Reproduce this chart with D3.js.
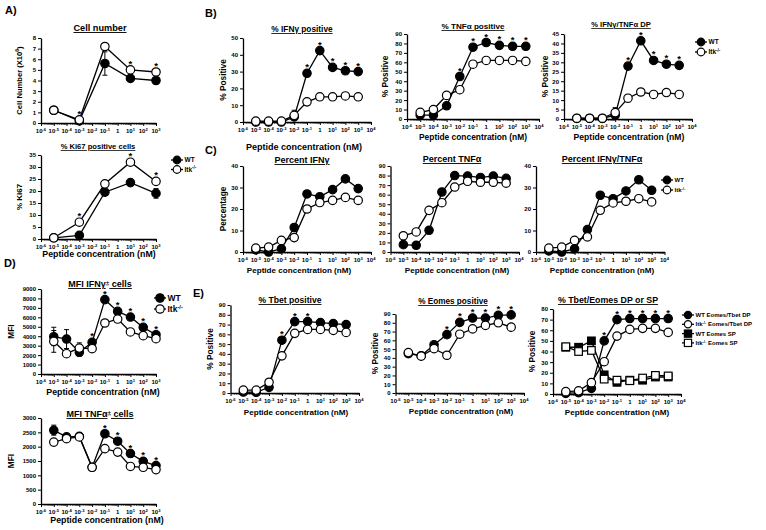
<!DOCTYPE html>
<html><head><meta charset="utf-8">
<script src="https://cdn.jsdelivr.net/npm/d3@7"></script>
<style>body{margin:0;background:#fff}svg{display:block}</style>
</head><body><svg id="c" width="766" height="530"></svg>
<script>
// ---------- DATA ----------
const xA = [-5, -3, -1, 1, 3];                 // log10 peptide conc (nM), panel A
const x9 = [-5, -4, -3, -2, -1, 0, 1, 2, 3];   // log10 peptide conc (nM), panels B-E

const cellWT = [1.2, 0.2, 5.6, 4.2, 4.0];
const cellKO = [1.2, 0.3, 7.2, 5.0, 4.8];
const cellStars = [-3, 1, 3];

const ki67WT = [0.5, 1.5, 19.5, 23.5, 19];
const ki67KO = [0.5, 7, 23, 32, 24];
const ki67Stars = [-3, 1, 3];

const ifngPosWT = [0, 0, 0, 3, 29, 42.5, 32.5, 30.5, 30];
const ifngPosKO = [0.5, 0.5, 0.5, 4, 12, 15, 15, 15.5, 15];
const ifngPosStars = [-1, 0, 1, 2, 3];

const tnfPosWT = [4, 4, 14, 45, 76, 81, 78, 77, 77];
const tnfPosKO = [7, 10, 25, 31, 58, 62, 62, 62, 61];
const tnfPosStars = [-2, -1, 0, 1, 2, 3];

const dpWT = [0.3, 0.3, 0.3, 2, 28, 41.4, 31, 29, 28.4];
const dpKO = [0.4, 0.4, 0.4, 3.4, 11, 14.3, 13, 14, 13];
const dpStars = [-1, 0, 1, 2, 3];

const pctIfngWT = [1, 0, 1.5, 11.4, 27, 25.7, 29, 34, 29.5];
const pctIfngKO = [1.8, 2.3, 5.4, 6.7, 20, 23, 24, 25.4, 24];

const pctTnfWT = [7.7, 7, 22.7, 62.8, 80, 79.5, 78, 79.5, 77];
const pctTnfKO = [17, 21, 43.6, 51.6, 68, 74, 73, 73, 72];

const pctDpWT = [0.5, 0, 1.5, 10.4, 26.4, 24.8, 28.4, 33.6, 28.7];
const pctDpKO = [1.8, 2.3, 5.4, 7, 19.4, 22.8, 23.6, 24.8, 23.3];

const mfiIfngWT = [3950, 3700, 2300, 3350, 7870, 6630, 6030, 4940, 4160];
const mfiIfngKO = [3460, 2150, 2750, 2680, 5400, 5820, 4450, 4060, 3740];
const mfiIfngStars = [-2, -1, 0, 1, 2, 3];

const mfiTnfWT = [2570, 2340, 2360, 1280, 2450, 2190, 1760, 1490, 1340];
const mfiTnfKO = [2160, 2280, 2340, 1280, 1930, 1810, 1310, 1280, 1200];
const mfiTnfStars = [-1, 0, 1, 2, 3];

const tbetWT = [1, 0.7, 5.8, 54, 73, 73, 72, 71, 70];
const tbetKO = [3, 3, 11, 38, 61, 65, 65, 64, 62];
const tbetStars = [-2, -1, 0];

const eomesWT = [44.8, 42.5, 55, 66.5, 80.5, 85.4, 85.4, 88.5, 89];
const eomesKO = [46, 42, 50.5, 43, 67, 73, 77, 80, 75];
const eomesStars = [-2, -1, 0, 1, 2, 3];

const dpTbWT = [0.6, 1.2, 5.3, 50, 70, 71, 71, 71, 71];
const dpTbKO = [2.2, 3, 10.7, 30.4, 54.5, 60.8, 61.8, 61.8, 58];
const spWT = [44, 44, 50, 18, 11, 13, 13, 16, 16];
const spKO = [44.5, 40, 41, 14, 13, 12.5, 15, 17.5, 17];
const dpTbStars = [-2, -1, 0, 1, 2, 3];

// error bars: [x exponent, low, high]
const cellErrWT = [[-1, 4.5, 6.7]];
const ki67ErrWT = [[3, 17, 21]];
const ifngPosErrKO = [[-2, 1.5, 7], [-1, 10, 14]];
const dpErrKO = [[-2, 1, 6], [-1, 9, 13]];
const mfiIfngErrWT = [[-5, 3000, 4950], [-4, 2700, 4700], [-3, 1900, 3300]];
const mfiIfngErrKO = [[-5, 2300, 4600]];
const mfiTnfErrWT = [[-5, 2400, 2750], [-4, 2150, 2350]];

// ---------- DRAWING ----------
const F = '"Liberation Sans", Arial, Helvetica, sans-serif';
const svg = d3.select('#c');

function txt(parent, x, y, fs, anchor) {
  return parent.append('text').attr('x', x).attr('y', y).attr('font-size', fs)
    .attr('text-anchor', anchor || 'middle').attr('font-family', F).attr('font-weight', 'bold').attr('fill', '#000');
}
function supText(t, parts, fs) {
  let prevSup = false;
  parts.forEach(([s, sup]) => {
    const ts = t.append('tspan').text(s);
    if (sup && !prevSup) ts.attr('dy', -fs * 0.38).attr('font-size', fs * 0.68);
    else if (sup) ts.attr('font-size', fs * 0.68);
    else if (prevSup) ts.attr('dy', fs * 0.38);
    prevSup = sup;
  });
  return t;
}
function marker(g, type, cx, cy, r) {
  const fill = (type === 'fc' || type === 'fs') ? '#000' : '#fff';
  if (type === 'fc' || type === 'oc') {
    g.append('circle').attr('cx', cx).attr('cy', cy).attr('r', r).attr('fill', fill).attr('stroke', '#000').attr('stroke-width', 1.2);
  } else {
    g.append('rect').attr('x', cx - r).attr('y', cy - r).attr('width', 2 * r).attr('height', 2 * r)
      .attr('fill', fill).attr('stroke', '#000').attr('stroke-width', 1.2);
  }
}

function panel(p) {
  const x = d3.scaleLog().domain([1e-6, +('1e' + p.maxE)]).range([p.x0, p.x1]);
  const y = d3.scaleLinear().domain([0, p.ymax]).range([p.yBot, p.yTop]);
  const g = svg.append('g');
  const tfs = p.tfs || 6;

  // y axis
  const ya = g.append('g').attr('transform', `translate(${p.x0},0)`)
    .call(d3.axisLeft(y).tickValues(d3.range(0, p.ymax + p.step / 2, p.step)).tickFormat(d3.format('d'))
      .tickSize(3).tickPadding(2).tickSizeOuter(0));
  ya.selectAll('text').attr('font-size', tfs).attr('font-family', F).attr('font-weight', 'bold');
  ya.selectAll('line').attr('stroke-width', 1);
  ya.select('.domain').attr('stroke-width', 1.3);

  // x axis
  const exps = d3.range(-6, p.maxE + 1);
  const xa = g.append('g').attr('transform', `translate(0,${p.yBot})`)
    .call(d3.axisBottom(x).tickValues(exps.map(e => +('1e' + e))).tickFormat('').tickSize(3).tickSizeOuter(0));
  xa.select('.domain').attr('stroke-width', 1.3);
  const minors = [];
  exps.slice(0, -1).forEach(e => { for (let k = 2; k < 10; k++) minors.push(k * +('1e' + e)); });
  xa.selectAll('line.minor').data(minors).enter().append('line').attr('class', 'minor')
    .attr('x1', d => x(d)).attr('x2', d => x(d)).attr('y1', 0).attr('y2', 1.8)
    .attr('stroke', '#000').attr('stroke-width', 0.6);
  exps.forEach(e => {
    const t = txt(g, x(+('1e' + e)), p.yBot + 10, tfs);
    if (e === 0) t.text('1');
    else supText(t, [['10', false], [String(e), true]], tfs);
  });

  // error bars
  (p.errs || []).forEach(([sx, lo, hi]) => {
    const cx = x(+('1e' + sx));
    g.append('line').attr('x1', cx).attr('x2', cx).attr('y1', y(lo)).attr('y2', y(hi)).attr('stroke', '#000').attr('stroke-width', 1);
    [lo, hi].forEach(v => g.append('line').attr('x1', cx - 2.5).attr('x2', cx + 2.5).attr('y1', y(v)).attr('y2', y(v)).attr('stroke', '#000').attr('stroke-width', 1));
  });

  // lines
  const line = d3.line().x(d => x(+('1e' + d[0]))).y(d => y(d[1]));
  p.series.forEach(s => {
    const pts = s.xs.map((e, i) => [e, s.vals[i]]);
    g.append('path').attr('d', line(pts)).attr('fill', 'none').attr('stroke', '#000').attr('stroke-width', 1.3);
  });
  // markers
  p.series.forEach(s => {
    s.xs.forEach((e, i) => marker(g, s.type, x(+('1e' + e)), y(s.vals[i]), s.type.endsWith('s') ? (p.sq || 3.8) : (p.r || 4.2)));
  });

  // stars
  (p.stars || []).forEach(e => {
    let top = Infinity;
    p.series.forEach(s => { const i = s.xs.indexOf(e); if (i >= 0) top = Math.min(top, y(s.vals[i])); });
    (p.errs || []).forEach(([sx, lo, hi]) => { if (sx === e) top = Math.min(top, y(hi) + 5); });
    txt(g, x(+('1e' + e)), top - 3, 9.5).text('*');
  });

  // title
  if (p.title) {
    const t = txt(g, p.title[1], p.title[2], p.title[3]).attr('text-decoration', 'underline');
    supText(t, p.title[0], p.title[3]);
  }
  // y label
  if (p.ylab) {
    const cy = (p.yTop + p.yBot) / 2;
    const t = txt(g, 0, 0, p.ylab[2]).attr('transform', `translate(${p.ylab[1]},${cy}) rotate(-90)`);
    supText(t, p.ylab[0], p.ylab[2]);
  }
  // x label
  if (p.xlab) txt(g, p.xlab[0], p.xlab[1], p.xlab[2]).text('Peptide concentration (nM)');
}

function legend(items, lx, ly, dy, fs, r) {
  const g = svg.append('g');
  items.forEach((it, i) => {
    const yy = ly + i * dy;
    g.append('line').attr('x1', lx - 6).attr('x2', lx + 6).attr('y1', yy).attr('y2', yy).attr('stroke', '#000').attr('stroke-width', 1.3);
    marker(g, it[0], lx, yy, r);
    const t = txt(g, lx + 7.5, yy + fs * 0.36, fs, 'start');
    supText(t, it[1], fs);
  });
}

const WT = [['WT', false]];
const KO = [['Itk', false], ['-/-', true]];

// Panel A
panel({x0: 41, x1: 156, maxE: 3, yTop: 38, yBot: 123, ymax: 8, step: 1,
  series: [{xs: xA, vals: cellWT, type: 'fc'}, {xs: xA, vals: cellKO, type: 'oc'}],
  stars: cellStars, errs: cellErrWT,
  title: [[['Cell number', false]], 100, 31, 9.2],
  ylab: [[['Cell Number (X10', false], ['6', true], [')', false]], 22, 7.6]});
panel({x0: 41, x1: 156, maxE: 3, yTop: 155, yBot: 239, ymax: 35, step: 5,
  series: [{xs: xA, vals: ki67WT, type: 'fc'}, {xs: xA, vals: ki67KO, type: 'oc'}],
  stars: ki67Stars, errs: ki67ErrWT,
  title: [[['%  Ki67 positive cells', false]], 98, 149, 7.6],
  ylab: [[['% Ki67', false]], 22, 8], xlab: [99, 257, 8.8]});
legend([['fc', WT], ['oc', KO]], 177, 160, 9.5, 6.5, 3.8);

// Panel B
panel({x0: 243, x1: 371, maxE: 4, yTop: 38, yBot: 122, ymax: 50, step: 10,
  series: [{xs: x9, vals: ifngPosWT, type: 'fc'}, {xs: x9, vals: ifngPosKO, type: 'oc'}],
  stars: ifngPosStars, errs: ifngPosErrKO,
  title: [[['% IFNγ positive', false]], 302, 32, 8.3],
  ylab: [[['%  Positive', false]], 226, 8.3], xlab: [304, 150, 9]});
panel({x0: 407, x1: 539, maxE: 4, yTop: 34, yBot: 119, ymax: 90, step: 10,
  series: [{xs: x9, vals: tnfPosWT, type: 'fc'}, {xs: x9, vals: tnfPosKO, type: 'oc'}],
  stars: tnfPosStars,
  title: [[['% TNFα positive', false]], 473, 29, 8.1],
  ylab: [[['%  Positive', false]], 388, 8.3], xlab: [473, 140, 8.4]});
panel({x0: 564, x1: 692, maxE: 4, yTop: 34, yBot: 119, ymax: 45, step: 5,
  series: [{xs: x9, vals: dpWT, type: 'fc'}, {xs: x9, vals: dpKO, type: 'oc'}],
  stars: dpStars, errs: dpErrKO,
  title: [[['% IFNγ/TNFα DP', false]], 621, 27, 7.6],
  ylab: [[['%  Positive', false]], 548, 8.3], xlab: [629, 140, 8.6]});
legend([['fc', WT], ['oc', KO]], 701, 42, 10, 6.5, 3.8);

// Panel C
panel({x0: 243, x1: 371, maxE: 4, yTop: 166, yBot: 252, ymax: 40, step: 10,
  series: [{xs: x9, vals: pctIfngWT, type: 'fc'}, {xs: x9, vals: pctIfngKO, type: 'oc'}],
  title: [[['Percent IFNγ', false]], 302, 163, 9],
  ylab: [[['Percentage', false]], 226, 8.3], xlab: [299, 273, 8.1]});
panel({x0: 390.5, x1: 519, maxE: 4, yTop: 166, yBot: 252, ymax: 90, step: 10,
  series: [{xs: x9, vals: pctTnfWT, type: 'fc'}, {xs: x9, vals: pctTnfKO, type: 'oc'}],
  title: [[['Percent TNFα', false]], 452, 162, 9], xlab: [457, 273, 8.1]});
panel({x0: 536, x1: 664.5, maxE: 4, yTop: 166, yBot: 252, ymax: 40, step: 10,
  series: [{xs: x9, vals: pctDpWT, type: 'fc'}, {xs: x9, vals: pctDpKO, type: 'oc'}],
  title: [[['Percent IFNγ/TNFα', false]], 602, 162, 9], xlab: [602, 273, 8.1]});
legend([['fc', WT], ['oc', KO]], 667, 180, 10, 6, 3.8);

// Panel D
panel({x0: 41, x1: 156, maxE: 3, yTop: 289, yBot: 374, ymax: 9000, step: 1000,
  series: [{xs: x9, vals: mfiIfngWT, type: 'fc'}, {xs: x9, vals: mfiIfngKO, type: 'oc'}],
  stars: mfiIfngStars, errs: mfiIfngErrWT.concat(mfiIfngErrKO),
  title: [[['MFI IFNγ', false], ['+', true], [' cells', false]], 100, 287, 9],
  ylab: [[['MFI', false]], 14, 8.3], xlab: [103, 395, 8.8]});
legend([['fc', WT], ['oc', KO]], 160, 298, 11, 8.5, 4.2);
panel({x0: 41, x1: 156, maxE: 3, yTop: 418, yBot: 504, ymax: 3000, step: 500,
  series: [{xs: x9, vals: mfiTnfWT, type: 'fc'}, {xs: x9, vals: mfiTnfKO, type: 'oc'}],
  stars: mfiTnfStars, errs: mfiTnfErrWT,
  title: [[['MFI TNFα', false], ['+', true], [' cells', false]], 100, 417, 9],
  ylab: [[['MFI', false]], 14, 8.3], xlab: [107, 523, 8.8]});

// Panel E
panel({x0: 230.5, x1: 359, maxE: 4, yTop: 305, yBot: 393, ymax: 90, step: 10,
  series: [{xs: x9, vals: tbetWT, type: 'fc'}, {xs: x9, vals: tbetKO, type: 'oc'}],
  stars: tbetStars,
  title: [[['% Tbet positive', false]], 290, 303, 8.6],
  ylab: [[['%  Positive', false]], 213, 8.3], xlab: [296, 415, 8.1]});
panel({x0: 395.5, x1: 524, maxE: 4, yTop: 314, yBot: 393, ymax: 90, step: 10,
  series: [{xs: x9, vals: eomesWT, type: 'fc'}, {xs: x9, vals: eomesKO, type: 'oc'}],
  stars: eomesStars,
  title: [[['% Eomes positive', false]], 453, 304, 8.2],
  ylab: [[['%  Positive', false]], 378, 8.3], xlab: [461, 414, 8.1]});
panel({x0: 553, x1: 681, maxE: 4, yTop: 309, yBot: 394, ymax: 80, step: 10,
  series: [{xs: x9, vals: spWT, type: 'fs'}, {xs: x9, vals: spKO, type: 'os'},
           {xs: x9, vals: dpTbWT, type: 'fc'}, {xs: x9, vals: dpTbKO, type: 'oc'}],
  stars: dpTbStars, sq: 3.8,
  title: [[['% Tbet/Eomes DP or SP', false]], 608, 303, 8.8],
  ylab: [[['%  Positive', false]], 535, 8.3], xlab: [617, 415, 8.1]});
legend([['fc', [['WT Eomes/Tbet DP', false]]], ['oc', [['Itk', false], ['-/-', true], [' Eomes/Tbet DP', false]]],
        ['fs', [['WT Eomes SP', false]]], ['os', [['Itk', false], ['-/-', true], [' Eomes SP', false]]]], 688, 315, 9.3, 6, 3.6);

// Panel letters
[['A)', 5, 14], ['B)', 205, 17], ['C)', 205, 154], ['D)', 4, 267], ['E)', 193, 297]].forEach(([s, x, y]) => txt(svg, x, y, 11, 'start').text(s));
</script>
</body></html>
